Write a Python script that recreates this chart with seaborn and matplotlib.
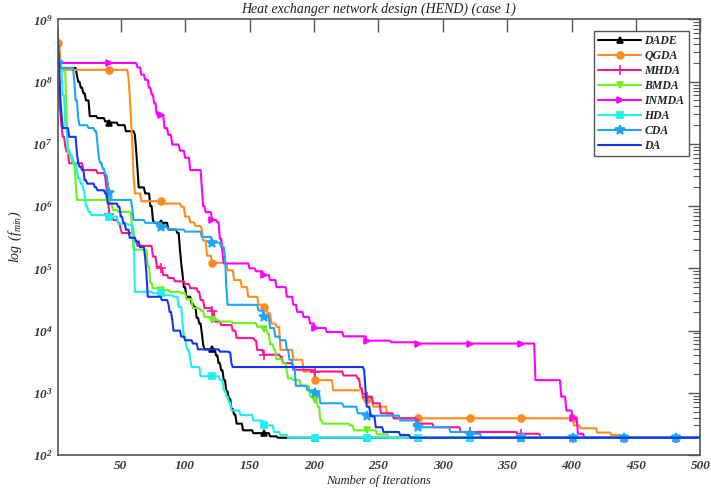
import numpy as np
import matplotlib
matplotlib.use("Agg")
import matplotlib.pyplot as plt
import seaborn as sns
from matplotlib.ticker import FixedLocator, LogLocator, LogFormatterSciNotation, NullFormatter

# Best-so-far curves as (iteration, value) breakpoints;
# each value holds until the next breakpoint.
dade_it = [1, 16, 17, 19, 21, 23, 26, 32, 38, 41, 48, 54, 61, 62, 63, 64, 69, 73, 75, 76, 87, 94, 96, 97, 98, 99,
           101, 105, 107, 109, 111, 113, 114, 115, 124, 126, 128, 130, 132, 134, 136, 138, 140, 145, 153, 166, 172]
dade_val = [1.66e8, 1.3e8, 1.0e8, 8.0e7, 6.5e7, 5.0e7, 2.8e7, 2.6e7, 2.3e7, 2.2e7, 2.0e7, 1.6e7, 1.4e7, 8.0e6, 4.0e6,
            2.0e6, 1.6e6, 1.0e6, 6.0e5, 5.4e5, 4.2e5, 3.7e5, 2.0e5, 1.2e5, 8.0e4, 5.0e4, 3.5e4, 2.7e4, 2.4e4, 1.6e4,
            1.3e4, 9.0e3, 6.0e3, 5.0e3, 4.0e3, 3.0e3, 2.3e3, 1.6e3, 1.05e3, 8.0e2, 5.5e2, 4.5e2, 3.2e2, 2.5e2, 2.25e2,
            2.0e2, 1.9e2]

qgda_it = [1, 3, 4, 56, 57, 58, 59, 60, 61, 66, 84, 97, 100, 104, 108, 113, 114, 117, 121, 133, 138, 144, 149, 157,
           161, 164, 167, 171, 174, 184, 192, 201, 215, 238, 246, 257, 262, 402, 407, 420, 431, 440]
qgda_val = [4.2e8, 2.5e8, 1.55e8, 1.2e8, 6.0e7, 2.5e7, 1.0e7, 3.0e6, 1.6e6, 1.2e6, 1.1e6, 9.8e5, 6.8e5, 5.5e5, 4.8e5,
            4.2e5, 2.8e5, 1.6e5, 1.23e5, 9.3e4, 6.5e4, 5.0e4, 3.5e4, 2.6e4, 2.4e4, 1.9e4, 1.3e4, 1.15e4, 4.9e3, 3.4e3,
            2.2e3, 1.6e3, 1.1e3, 8.1e2, 6.0e2, 4.4e2, 3.9e2, 3.0e2, 2.7e2, 2.3e2, 2.1e2, 1.9e2]

mhda_it = [1, 2, 3, 4, 5, 7, 8, 10, 21, 32, 38, 39, 40, 41, 44, 48, 50, 51, 61, 63, 75, 78, 81, 83, 87, 92, 100, 104,
           110, 112, 115, 121, 123, 128, 137, 140, 154, 156, 161, 174, 176, 184, 200, 223, 234, 236, 238, 241, 246,
           252, 262, 280, 293, 314, 358, 376]
mhda_val = [1.0e8, 7.0e7, 3.5e7, 2.0e7, 1.3e7, 9.0e6, 7.5e6, 4.9e6, 3.8e6, 3.4e6, 2.9e6, 1.9e6, 1.6e6, 7.5e5, 6.0e5,
            5.4e5, 4.2e5, 3.7e5, 2.8e5, 2.3e5, 1.55e5, 1.07e5, 1.0e5, 7.8e4, 7.0e4, 6.2e4, 5.6e4, 4.8e4, 4.2e4, 3.1e4,
            2.3e4, 2.1e4, 1.4e4, 1.23e4, 1.0e4, 7.6e3, 7.0e3, 4.9e3, 4.1e3, 3.8e3, 3.0e3, 2.35e3, 2.2e3, 1.9e3, 1.7e3,
            1.2e3, 9.5e2, 8.7e2, 6.8e2, 4.7e2, 3.9e2, 3.2e2, 2.8e2, 2.35e2, 2.2e2, 1.9e2]

bmda_it = [1, 7, 8, 9, 12, 13, 15, 16, 42, 44, 48, 58, 59, 60, 71, 73, 75, 80, 88, 97, 101, 106, 112, 115, 121, 127,
           137, 156, 161, 164, 166, 169, 171, 176, 179, 180, 184, 190, 197, 201, 203, 205, 207, 228, 231, 249, 258]
bmda_val = [1.5e8, 1.4e8, 2.5e7, 7.0e6, 5.5e6, 4.9e6, 2.5e6, 1.26e6, 1.1e6, 8.7e5, 8.1e5, 7.8e5, 3.5e5, 2.0e5, 1.07e5,
            5.8e4, 4.8e4, 4.5e4, 4.2e4, 4.0e4, 3.2e4, 2.3e4, 2.1e4, 1.66e4, 1.48e4, 1.4e4, 1.32e4, 1.15e4, 1.05e4,
            9.0e3, 6.0e3, 4.9e3, 3.5e3, 3.0e3, 2.2e3, 1.7e3, 1.6e3, 1.3e3, 8.7e2, 7.6e2, 6.0e2, 3.6e2, 3.2e2, 3.0e2,
            2.5e2, 2.15e2, 1.9e2]

inmda_it = [1, 63, 66, 69, 72, 74, 76, 78, 84, 87, 90, 96, 100, 104, 113, 114, 116, 121, 125, 127, 129, 130, 150, 155,
            161, 166, 171, 179, 184, 187, 192, 197, 201, 210, 223, 241, 260, 280, 372, 392, 396, 401, 405, 410]
inmda_val = [2.0e8, 1.7e8, 1.3e8, 1.07e8, 8.0e7, 6.2e7, 4.5e7, 2.95e7, 1.8e7, 1.4e7, 9.8e6, 7.8e6, 6.0e6, 3.8e6, 2.0e6,
             1.0e6, 8.0e5, 6.0e5, 5.5e5, 3.0e5, 1.8e5, 1.2e5, 1.0e5, 9.0e4, 7.8e4, 6.5e4, 5.0e4, 3.5e4, 2.6e4, 2.0e4,
             1.66e4, 1.3e4, 1.1e4, 9.5e3, 8.1e3, 6.9e3, 6.5e3, 6.2e3, 1.6e3, 8.7e2, 5.2e2, 3.9e2, 2.2e2, 1.9e2]

hda_it = [1, 3, 5, 7, 9, 11, 13, 14, 16, 17, 19, 21, 22, 23, 25, 27, 40, 48, 56, 60, 61, 75, 84, 91, 95, 98, 99, 101,
          102, 104, 105, 112, 127, 130, 132, 134, 136, 143, 153, 161, 169, 174, 180]
hda_val = [2.0e8, 1.6e8, 6.0e7, 2.0e7, 8.0e6, 6.5e6, 5.5e6, 4.9e6, 3.8e6, 2.8e6, 2.3e6, 1.9e6, 1.6e6, 1.0e6, 8.1e5,
           7.2e5, 6.8e5, 5.2e5, 5.0e5, 4.2e5, 4.2e4, 4.0e4, 3.7e4, 3.5e4, 2.4e4, 1.3e4, 8.0e3, 5.5e3, 4.9e3, 3.4e3,
           2.6e3, 1.85e3, 1.6e3, 1.1e3, 8.7e2, 7.0e2, 5.2e2, 4.4e2, 3.6e2, 3.0e2, 2.35e2, 2.1e2, 1.9e2]

cda_it = [1, 2, 14, 15, 17, 18, 25, 30, 32, 33, 34, 36, 38, 40, 41, 42, 59, 60, 69, 81, 87, 100, 113, 121, 128, 131,
          132, 133, 157, 161, 166, 170, 174, 179, 181, 184, 186, 195, 201, 205, 223, 234, 241, 267, 280, 306, 319, 330]
cda_val = [2.0e8, 1.66e8, 1.0e8, 5.0e7, 2.6e7, 2.0e7, 1.8e7, 1.6e7, 1.0e7, 6.0e6, 5.0e6, 4.0e6, 3.2e6, 2.3e6, 1.6e6,
           1.26e6, 9.0e5, 6.0e5, 5.4e5, 4.6e5, 4.2e5, 3.9e5, 3.2e5, 2.6e5, 2.2e5, 1.5e5, 5.0e4, 2.6e4, 2.1e4, 1.66e4,
           1.1e4, 8.0e3, 7.0e3, 4.9e3, 3.4e3, 2.5e3, 1.3e3, 1.1e3, 9.8e2, 6.8e2, 6.0e2, 4.7e2, 4.3e2, 3.6e2, 2.8e2,
           2.35e2, 2.2e2, 1.9e2]

da_it = [1, 2, 3, 4, 5, 10, 16, 17, 18, 20, 22, 24, 30, 32, 38, 40, 48, 50, 52, 54, 57, 62, 65, 69, 70, 71, 82, 87,
         88, 90, 91, 97, 100, 106, 110, 127, 134, 136, 137, 239, 240, 241, 244, 248, 254, 267, 275]
da_val = [7.0e8, 2.5e8, 6.0e7, 3.0e7, 1.8e7, 1.3e7, 7.0e6, 5.0e6, 4.3e6, 3.8e6, 2.6e6, 2.3e6, 2.0e6, 1.8e6, 1.6e6,
          1.1e6, 9.8e5, 6.8e5, 5.4e5, 4.2e5, 3.1e5, 2.7e5, 2.2e5, 1.5e5, 8.0e4, 3.5e4, 3.1e4, 2.7e4, 2.0e4, 1.5e4,
          1.0e4, 8.0e3, 7.0e3, 6.2e3, 5.0e3, 4.6e3, 4.5e3, 2.95e3, 2.6e3, 2.3e3, 1.2e3, 6.0e2, 4.2e2, 2.8e2, 2.35e2,
          2.1e2, 1.9e2]

n_iter = 500
names = ["DADE", "QGDA", "MHDA", "BMDA", "INMDA", "HDA", "CDA", "DA"]
colors = ["#000000", "#FF8C1F", "#FF1493", "#6CF21A", "#FF00FF", "#1AF0F0", "#1EA5F5", "#1433F5"]
markers = ["^", "o", "+", "v", ">", "s", "*", None]
curves = [(dade_it, dade_val), (qgda_it, qgda_val), (mhda_it, mhda_val), (bmda_it, bmda_val),
          (inmda_it, inmda_val), (hda_it, hda_val), (cda_it, cda_val), (da_it, da_val)]
decades = [1e2, 1e3, 1e4, 1e5, 1e6, 1e7, 1e8, 1e9]

iters = np.arange(1, n_iter + 1)


def hold(it, val):
    # best-so-far value at every iteration
    idx = np.searchsorted(it, iters, side="right") - 1
    return np.asarray(val)[idx]


sns.set_style("white")
plt.rcParams["font.family"] = "serif"
plt.rcParams["font.serif"] = ["Liberation Serif", "DejaVu Serif"]
plt.rcParams["font.style"] = "italic"
plt.rcParams["font.weight"] = "bold"

fig, ax = plt.subplots(figsize=(7.11, 4.99), dpi=100)
fig.subplots_adjust(left=0.081, right=0.985, bottom=0.088, top=0.961)

for name, col, mk, (it, val) in zip(names, colors, markers, curves):
    kw = {}
    if mk is not None:
        kw = dict(marker=mk, markersize=5 if mk not in ("*", "+") else 7, markevery=40,
                  markeredgecolor=col, markerfacecolor=col, markeredgewidth=1.2)
    sns.lineplot(x=iters, y=hold(it, val), ax=ax, color=col, linewidth=1.5, label=name, **kw)

ax.set_yscale("log")
ax.set_xlim(1, 500)
ax.set_ylim(1e2, 1e9)
ax.set_xticks(np.arange(50, 501, 50))
ax.yaxis.set_major_locator(FixedLocator(decades))
ax.yaxis.set_minor_locator(LogLocator(base=10, subs=np.arange(2, 10), numticks=100))
ax.yaxis.set_major_formatter(LogFormatterSciNotation())
ax.yaxis.set_minor_formatter(NullFormatter())

ax.tick_params(which="both", direction="in", top=True, right=True, colors="#555555",
               labelcolor="#3a3a3a", labelsize=9.5)
ax.tick_params(which="major", length=9, width=1)
ax.tick_params(axis="y", which="minor", length=5, width=0.8)
for s in ax.spines.values():
    s.set_color("#555555")
    s.set_linewidth(1.2)

ax.set_title("Heat exchanger network design (HEND) (case 1)", fontsize=10, color="#222222", pad=5)
ax.set_xlabel("Number of Iterations", fontsize=9, color="#222222", labelpad=2)
ax.set_ylabel(r"$\mathdefault{log\ (f_{min})}$", fontsize=10, color="#222222", labelpad=6)

leg = ax.legend(loc="upper right", fontsize=8.5, handlelength=3.6, labelspacing=0.25,
                borderaxespad=1.0, fancybox=False, framealpha=1, edgecolor="#555555",
                borderpad=0.35, handletextpad=0.3)
leg.get_frame().set_linewidth(1.0)
for t in leg.get_texts():
    t.set_color("#222222")

fig.savefig("out.png", dpi=100)
